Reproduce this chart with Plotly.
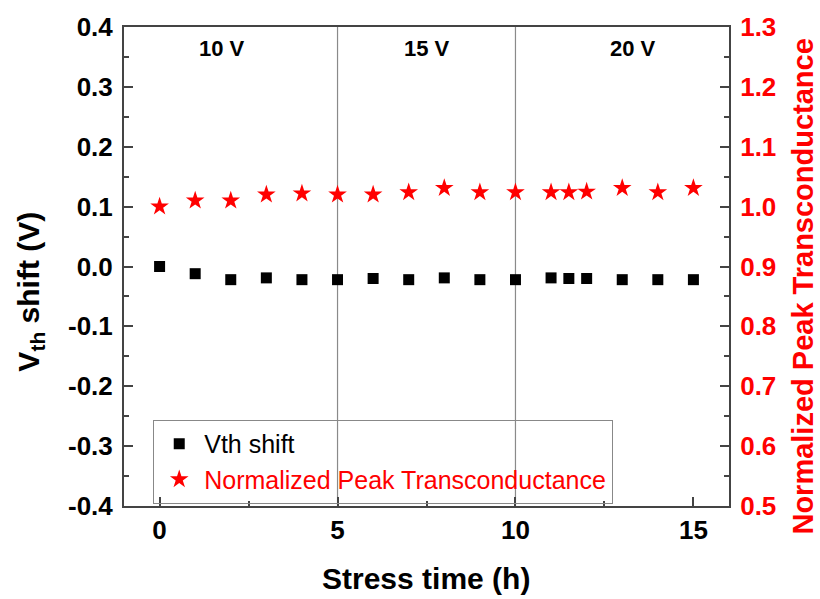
import plotly.graph_objects as go

# ---- data ----
stress_time = [0, 1, 2, 3, 4, 5, 6, 7, 8, 9, 10, 11, 11.5, 12, 13, 14, 15]
vth_shift = [0.000, -0.012, -0.022, -0.019, -0.022, -0.022, -0.020, -0.022, -0.019,
             -0.022, -0.022, -0.019, -0.020, -0.020, -0.022, -0.022, -0.022]
norm_gm = [1.000, 1.010, 1.010, 1.020, 1.022, 1.020, 1.020, 1.024, 1.031,
           1.024, 1.024, 1.024, 1.024, 1.025, 1.031, 1.024, 1.031]
stage_bounds = [5, 10]
stage_labels = ["10 V", "15 V", "20 V"]
stage_label_x = [1.75, 7.5, 13.3]
left_ticks = [-0.4, -0.3, -0.2, -0.1, 0.0, 0.1, 0.2, 0.3, 0.4]
left_ticklabels = ["-0.4", "-0.3", "-0.2", "-0.1", "0.0", "0.1", "0.2", "0.3", "0.4"]
right_ticks = [0.5, 0.6, 0.7, 0.8, 0.9, 1.0, 1.1, 1.2, 1.3]
right_ticklabels = ["0.5", "0.6", "0.7", "0.8", "0.9", "1.0", "1.1", "1.2", "1.3"]
x_ticks = [0, 5, 10, 15]

FONT = "Liberation Sans, Arial, sans-serif"
AX = "#444444"
RED = "#ff0000"

fig = go.Figure()
fig.add_trace(go.Scatter(
    x=stress_time, y=vth_shift, mode="markers", name="Vth shift",
    marker=dict(symbol="square", size=11, color="black"),
))
fig.add_trace(go.Scatter(
    x=stress_time, y=norm_gm, mode="markers", yaxis="y2",
    name="<span style='color:#ff0000'>Normalized Peak Transconductance</span>",
    marker=dict(symbol="star", size=14, color=RED, line=dict(width=0)),
))

for b in stage_bounds:
    fig.add_shape(type="line", xref="x", yref="paper", x0=b, x1=b, y0=0, y1=1,
                  line=dict(color="#8a8a8a", width=1.2), layer="below")

annotations = []
for lx, lt in zip(stage_label_x, stage_labels):
    annotations.append(dict(x=lx, y=0.364, xref="x", yref="y", text=lt, showarrow=False,
                            xanchor="center", yanchor="middle",
                            font=dict(family=FONT, size=22, color="black", weight="bold")))

annotations += [
    dict(x=-0.155, y=0.448, xref="paper", yref="paper", text="V<sub>th</sub> shift (V)",
         textangle=-90, showarrow=False, xanchor="center", yanchor="middle",
         font=dict(family=FONT, size=30, color="black", weight="bold")),
    dict(x=0.499, y=-0.151, xref="paper", yref="paper", text="Stress time (h)",
         showarrow=False, xanchor="center", yanchor="middle",
         font=dict(family=FONT, size=30, color="black", weight="bold")),
    dict(x=1.123, y=0.459, xref="paper", yref="paper", text="Normalized Peak Transconductance",
         textangle=-90, showarrow=False, xanchor="center", yanchor="middle",
         font=dict(family=FONT, size=29, color=RED, weight="bold")),
]

tickfont = dict(family=FONT, size=26, color="black", weight="bold")

fig.update_layout(
    width=820, height=599,
    margin=dict(l=124, r=91, t=22, b=93),
    paper_bgcolor="white", plot_bgcolor="white",
    showlegend=True,
    legend=dict(x=0.048, y=0.18, xanchor="left", yanchor="top",
                bgcolor="rgba(255,255,255,0)", bordercolor="#888888", borderwidth=1.2,
                font=dict(family=FONT, size=25, color="black"),
                itemwidth=40, tracegroupgap=0),
    annotations=annotations,
    xaxis=dict(range=[-1, 16], tickvals=x_ticks, showgrid=False, zeroline=False,
               showline=True, linecolor=AX, linewidth=2, mirror=True,
               ticks="inside", ticklen=9, tickwidth=1.5, tickcolor=AX,
               minor=dict(tickvals=[2.5, 7.5, 12.5], ticks="inside", ticklen=5,
                          tickwidth=1.5, tickcolor=AX),
               tickfont=tickfont, ticklabelstandoff=0),
    yaxis=dict(range=[-0.4, 0.4], tickvals=left_ticks, ticktext=left_ticklabels,
               showgrid=False, zeroline=False,
               showline=True, linecolor=AX, linewidth=2,
               ticks="inside", ticklen=9, tickwidth=1.5, tickcolor=AX,
               minor=dict(dtick=0.05, ticks="inside", ticklen=5, tickwidth=1.5, tickcolor=AX),
               tickfont=tickfont, ticklabelstandoff=4),
    yaxis2=dict(range=[0.5, 1.3], tickvals=right_ticks, ticktext=right_ticklabels,
                overlaying="y", side="right",
                showgrid=False, zeroline=False,
                showline=True, linecolor=AX, linewidth=2,
                ticks="inside", ticklen=9, tickwidth=1.5, tickcolor=AX,
                minor=dict(dtick=0.05, ticks="inside", ticklen=5, tickwidth=1.5, tickcolor=AX),
                tickfont=dict(family=FONT, size=26, color=RED, weight="bold"),
                ticklabelstandoff=4),
)

fig.write_html("out.html")
